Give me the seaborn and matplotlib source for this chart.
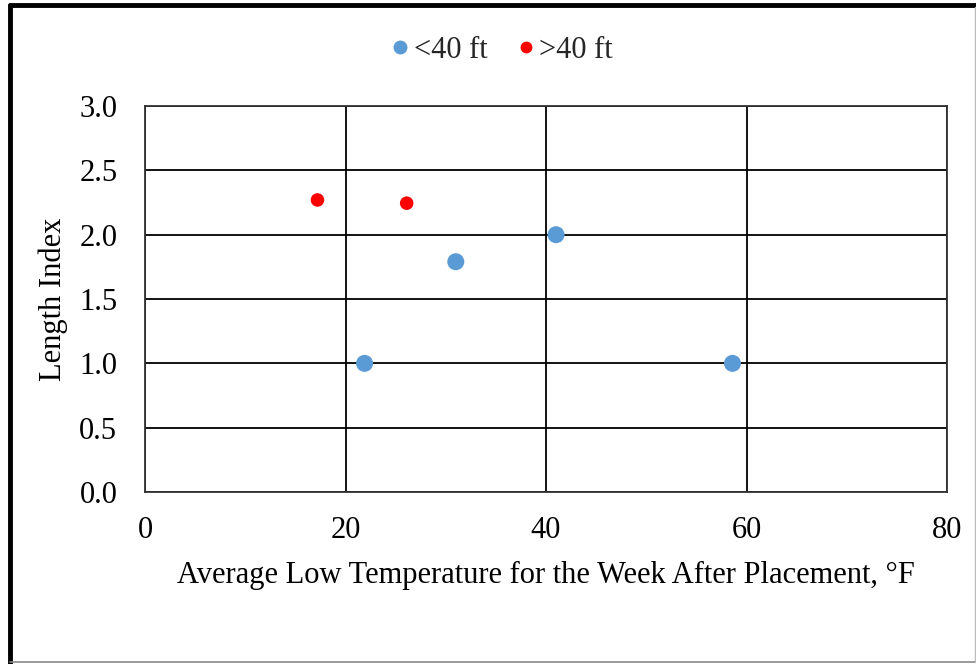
import matplotlib
matplotlib.use("Agg")
import matplotlib.pyplot as plt
from matplotlib.lines import Line2D
import pandas as pd
import seaborn as sns

# data
short_temp = [21.9, 31.0, 41.0, 58.6]
short_index = [1.0, 1.79, 2.0, 1.0]
long_temp = [17.2, 26.1]
long_index = [2.27, 2.245]

x_ticks = [0, 20, 40, 60, 80]
y_ticks = [0.0, 0.5, 1.0, 1.5, 2.0, 2.5, 3.0]

BLUE = "#5B9BD5"
RED = "#FF0000"
FS = 22

sns.set_theme(style="white")
plt.rcParams["font.family"] = ["Liberation Serif", "DejaVu Serif"]

df_short = pd.DataFrame({"temp": short_temp, "index": short_index})
df_long = pd.DataFrame({"temp": long_temp, "index": long_index})

fig = plt.figure(figsize=(9.76, 6.64), dpi=100)
ax = fig.add_axes([0.1486, 0.259, 0.8217, 0.5813])

sns.scatterplot(data=df_short, x="temp", y="index", ax=ax, color=BLUE,
                s=150, edgecolor="none", zorder=3)
sns.scatterplot(data=df_long, x="temp", y="index", ax=ax, color=RED,
                s=95, edgecolor="none", zorder=3)

ax.set_xlim(0, 80)
ax.set_ylim(0, 3)
ax.set_xticks(x_ticks)
ax.set_yticks(y_ticks)
ax.set_xticklabels([str(t) for t in x_ticks])
ax.set_yticklabels([f"{t:.1f}" for t in y_ticks])
ax.tick_params(axis="both", length=0, labelsize=FS, colors="black")
ax.tick_params(axis="x", pad=17)
ax.tick_params(axis="y", pad=20)
ax.grid(True, color="black", linewidth=1.3)
ax.set_axisbelow(True)
for sp in ax.spines.values():
    sp.set_color("#333333")
    sp.set_linewidth(1.3)

ax.set_xlabel("Average Low Temperature for the Week After Placement, °F",
              fontsize=FS, labelpad=12, color="black")
ax.set_ylabel("Length Index", fontsize=FS, labelpad=8, color="black")

handles = [
    Line2D([], [], marker="o", linestyle="none", color=BLUE, markersize=10,
           markeredgewidth=0, label="<40 ft"),
    Line2D([], [], marker="o", linestyle="none", color=RED, markersize=8.5,
           markeredgewidth=0, label=">40 ft"),
]
fig.legend(handles=handles, loc="center", bbox_to_anchor=(0.512, 0.924),
           ncol=2, frameon=False, fontsize=FS, handletextpad=0.0,
           columnspacing=0.8, handlelength=0.9)

# screenshot frame: heavy black top/left, faint gray bottom/right
fig.add_artist(Line2D([0.0102, 1.0], [0.9925, 0.9925], color="black",
                      linewidth=3.5, transform=fig.transFigure))
fig.add_artist(Line2D([0.0102, 0.0102], [0.0, 0.9925], color="black",
                      linewidth=3.5, transform=fig.transFigure))
fig.add_artist(Line2D([0.0102, 1.0], [0.003, 0.003], color="#888888",
                      linewidth=1.2, transform=fig.transFigure))
fig.add_artist(Line2D([0.9985, 0.9985], [0.003, 0.99], color="#bbbbbb",
                      linewidth=1.0, transform=fig.transFigure))

fig.savefig("out.png", dpi=100)
plt.close(fig)
